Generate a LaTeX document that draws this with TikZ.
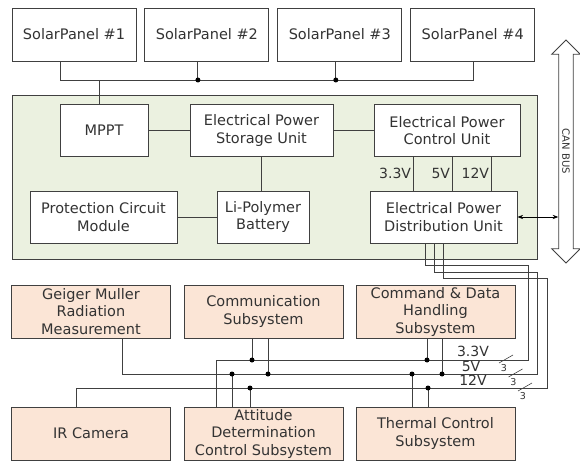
\documentclass[tikz,border=0pt]{standalone}
\usepackage{fontspec}
\setmainfont{DejaVu Sans}
\usepackage{tikz}
\definecolor{lngray}{HTML}{404040}
\definecolor{epsgreen}{HTML}{EBF1E0}
\definecolor{subpeach}{HTML}{FBE5D6}
\usetikzlibrary{arrows.meta, positioning, shapes.arrows}
\tikzset{
	pnode/.style={draw=lngray, fill=white, line width=0.9pt, align=center,
		font=\fontsize{14.5pt}{17.5pt}\selectfont, inner sep=2pt, minimum height=52pt, text=black!80},
	snode/.style={pnode, fill=subpeach, minimum width=159pt, minimum height=53pt},
	gpanel/.style={draw=lngray, fill=epsgreen, line width=0.9pt, minimum width=525pt, minimum height=164pt},
	canarr/.style={double arrow, draw=lngray, fill=white, line width=0.9pt, rotate=-90,
		minimum height=223pt, double arrow head extend=7pt, inner xsep=0pt, inner ysep=3pt,
		font=\fontsize{10pt}{11pt}\selectfont, text=black!80},
	wline/.style={draw=lngray, line width=0.9pt},
	jdot/.style={circle, fill=black, inner sep=0pt, minimum size=5pt},
	vlab/.style={font=\fontsize{14pt}{15pt}\selectfont, inner sep=1.5pt, text=black!80},
	nlab/.style={font=\fontsize{9.5pt}{10pt}\selectfont, inner sep=0pt, text=black!80},
	darr/.style={{Stealth[length=2mm]}-{Stealth[length=2mm]}, draw=black, line width=0.7pt}
}
\begin{document}
\begin{tikzpicture}[x=1pt, y=-1pt, node distance=8pt and 8pt]
	\useasboundingbox (0,0) rectangle (580,462);
	\node[gpanel] (eps) at (274.5,177) {};
	\node[pnode, minimum width=124pt, minimum height=53pt] (sp1) at (74,34.5) {SolarPanel \#1};
	\node[pnode, minimum width=124pt, minimum height=53pt, right=of sp1] (sp2) {SolarPanel \#2};
	\node[pnode, minimum width=124pt, minimum height=53pt, right=of sp2] (sp3) {SolarPanel \#3};
	\node[pnode, minimum width=124pt, minimum height=53pt, right=of sp3] (sp4) {SolarPanel \#4};
	\node[pnode, minimum width=88pt] (mppt) at (104,130.5) {MPPT};
	\node[pnode, minimum width=143pt] (epsu) at (261.5,130.5) {Electrical Power\\Storage Unit};
	\node[pnode, minimum width=146pt] (epcu) at (447,130.5) {Electrical Power\\Control Unit};
	\node[pnode, minimum width=147pt] (pcm) at (103.5,217) {Protection Circuit\\Module};
	\node[pnode, minimum width=92pt] (lipo) at (263,217) {Li-Polymer\\Battery};
	\node[pnode, minimum width=147pt] (epdu) at (443.5,217) {Electrical Power\\Distribution Unit};
	\node[canarr] (can) at (566,151.5) {CAN BUS};
	\node[snode] (geiger) at (91,311.5) {Geiger Muller\\Radiation\\Measurement};
	\node[snode] (comm) at (263.5,311.5) {Communication\\Subsystem};
	\node[snode] (cdh) at (435.5,311.5) {Command \& Data\\Handling\\Subsystem};
	\node[snode] (ir) at (91,433.5) {IR Camera};
	\node[snode] (adcs) at (263.5,433.5) {Attitude\\Determination\\Control Subsystem};
	\node[snode] (tcs) at (435.5,433.5) {Thermal Control\\Subsystem};

	\coordinate (bus) at (0,80);
	\coordinate (b33) at (528,360);
	\coordinate (b5) at (537.5,374);
	\coordinate (b12) at (547,388);

	\draw[wline] ([xshift=-14pt]sp1.south) |- ([xshift=1pt]sp4.south |- bus) -- ([xshift=1pt]sp4.south);
	\draw[wline] ([xshift=-9pt]sp2.south) -- ([xshift=-9pt]sp2.south |- bus) node[jdot] (bj1) {};
	\draw[wline] ([xshift=-4pt]sp3.south) -- ([xshift=-4pt]sp3.south |- bus) node[jdot] (bj2) {};
	\draw[wline] ([xshift=-5pt]mppt.north) -- ([xshift=-5pt]mppt.north |- bus);
	\draw[wline] (mppt.east) -- (epsu.west);
	\draw[wline] (epsu.east) -- (epcu.west);
	\draw[wline] (epsu.south) -- (epsu.south |- lipo.north);
	\draw[wline] (pcm.east) -- (lipo.west);
	\foreach \dx/\vv in {-34/3.3V, 5/5V, 44/12V}
		\draw[wline] ([xshift=\dx pt]epcu.south) -- node[vlab, left] {\vv} ([xshift=\dx pt]epcu.south |- epdu.north);
	\draw[darr] (epdu.east) -- (epdu.east -| can.south);

	\draw[wline] ([xshift=-18.5pt]epdu.south) -- ++(0,22) -| (b33) -| ([xshift=-47.5pt]adcs.north);
	\draw[wline] ([xshift=-9.5pt]epdu.south) -- ++(0,29) -| (b5) -| ([xshift=31pt]geiger.south);
	\draw[wline] ([xshift=-0.5pt]epdu.south) -- ++(0,35) -| (b12) -| ([xshift=-15pt]ir.north);
	\foreach \nd/\dx/\bb [count=\i] in {comm/-11.5/b33, comm/4.5/b5, cdh/-8.5/b33, cdh/6.5/b5}
		\draw[wline] ([xshift=\dx pt]\nd.south) -- ([xshift=\dx pt]\nd.south |- \bb) node[jdot] (tu\i) {};
	\foreach \nd/\dx/\bb [count=\i] in {adcs/-31.5/b5, adcs/-13.5/b12, tcs/-23.5/b5, tcs/-7.5/b12}
		\draw[wline] ([xshift=\dx pt]\nd.north) -- ([xshift=\dx pt]\nd.north |- \bb) node[jdot] (td\i) {};

	\node[vlab, anchor=south, inner ysep=3.5pt] (l33) at ([xshift=-55pt]b33) {3.3V};
	\node[vlab, anchor=south, inner ysep=2.5pt] (l5) at ([xshift=-66.5pt]b5) {5V};
	\node[vlab, anchor=south, inner ysep=2.5pt] (l12) at ([xshift=-74pt]b12) {12V};
	\foreach \bb [count=\i] in {b33, b5, b12} {
		\draw[wline, line width=0.6pt] ([xshift=-29pt, yshift=-3pt]\bb) -- ([xshift=-15pt, yshift=5pt]\bb);
		\node[nlab] (n\i) at ([xshift=-24pt, yshift=-8pt]\bb) {3};
	}
\end{tikzpicture}
\end{document}
